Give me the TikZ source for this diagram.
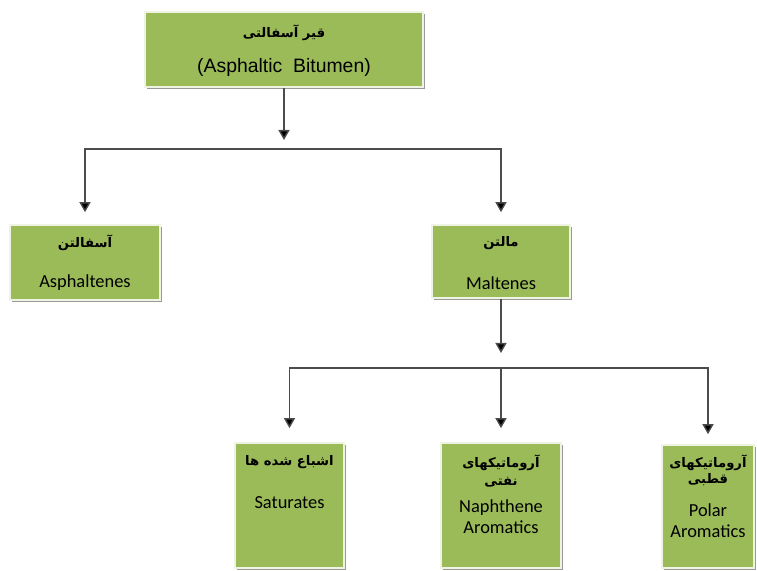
\documentclass[tikz,border=0pt]{standalone}
\usepackage{fontspec}
\setmainfont{Carlito}
\newfontfamily\farsi[Script=Arabic]{DejaVu Sans}
\newfontfamily\arial{Liberation Sans}
\TeXXeTstate=1
\usetikzlibrary{arrows.meta,shadows}
\definecolor{boxgreen}{HTML}{9BBB59}
\definecolor{boxrim}{HTML}{EEF3E2}

\begin{document}
\begin{tikzpicture}[x=0.5pt,y=-0.5pt,
    box/.style={fill=boxgreen, draw=boxrim, line width=0.8pt,
      drop shadow={shadow xshift=1.2pt, shadow yshift=-1.2pt, fill=black!40, opacity=1}},
    fa/.style={inner sep=0pt, font=\farsi\bfseries\fontsize{6.6}{10}\selectfont},
    en/.style={inner sep=0pt, text=black, font=\fontsize{9.2}{11}\selectfont},
    arr/.style={draw=black!70, line width=0.7pt, -{Triangle[width=5.5pt,length=5pt,fill=black]}}]
  \useasboundingbox (0,0) rectangle (757,571);

  \node[box, minimum width=139pt, minimum height=37.5pt] (bitumen) at (284,49.5) {};
  \node[fa] (bitumenfa) at (284,33) {\beginR قیر آسفالتی\endR};
  \node[en, font=\arial\fontsize{9.7}{12}\selectfont] (bitumenen) at (284,67) {(Asphaltic\ \ Bitumen)};

  \node[box, minimum width=75pt, minimum height=37.5pt] (asph) at (85,262.5) {};
  \node[fa] (asphfa) at (85,243) {\beginR آسفالتن\endR};
  \node[en] (asphen) at (85,283) {Asphaltenes};

  \node[box, minimum width=69pt, minimum height=36.5pt] (malt) at (501,261.5) {};
  \node[fa] (maltfa) at (501,243) {\beginR مالتن\endR};
  \node[en] (malten) at (501,283) {Maltenes};

  \node[box, minimum width=54.5pt, minimum height=62.5pt] (sat) at (289.5,505.5) {};
  \node[fa] (satfa) at (289.5,462) {\beginR اشباع شده ها\endR};
  \node[en] (saten) at (289.5,503) {Saturates};

  \node[box, minimum width=60pt, minimum height=62.5pt] (naph) at (501,505.5) {};
  \node[fa] (naphfa) at (501,463) {\beginR آروماتیکهای\endR};
  \node[fa] (naphfb) at (501,482) {\beginR نفتی\endR};
  \node[en] (naphen) at (501,508) {Naphthene};
  \node[en] (naphem) at (501,527) {Aromatics};

  \node[box, minimum width=46pt, minimum height=61.5pt] (polar) at (708,506.5) {};
  \node[fa] (polarfa) at (708,463) {\beginR آروماتیکهای\endR};
  \node[fa] (polarfb) at (708,480) {\beginR قطبی\endR};
  \node[en] (polaren) at (708,510) {Polar};
  \node[en] (polarem) at (708,531) {Aromatics};

  \coordinate (split1) at (284,149);
  \coordinate (split2) at (501,368);
  \draw[arr, shorten >=4.5pt] (bitumen) -- (split1);
  \draw[arr, shorten >=6pt] (split1) -| (asph);
  \draw[arr, shorten >=6pt] (split1) -| (malt);
  \draw[arr, shorten >=7.5pt] (malt) -- (split2);
  \draw[arr, shorten >=7pt] (split2) -| (sat);
  \draw[arr, shorten >=7pt] (split2) -- (naph);
  \draw[arr, shorten >=5pt] (split2) -| (polar);
\end{tikzpicture}
\end{document}
